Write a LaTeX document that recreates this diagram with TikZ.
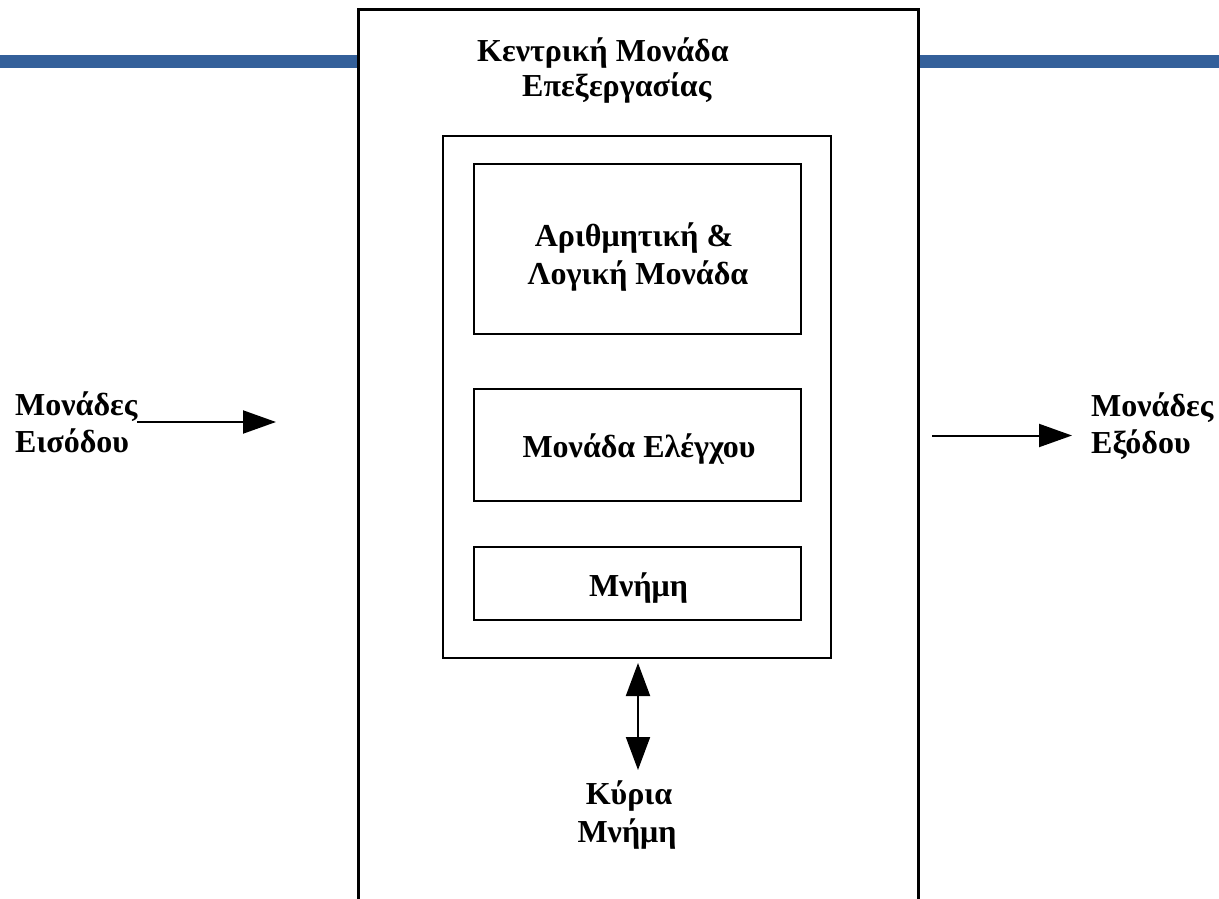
\documentclass[tikz,border=0pt]{standalone}
\usepackage{fontspec}
\setmainfont{Liberation Serif}
\usetikzlibrary{arrows.meta}
\definecolor{bandblue}{HTML}{34609A}
\begin{document}
\begin{tikzpicture}[x=1pt,y=-1pt,
  frame/.style={draw=black,line width=2.4pt},
  unitbox/.style={frame,line width=2.2pt,minimum width=327pt,anchor=north west,inner sep=0pt},
  lbl/.style={font=\bfseries\fontsize{32}{38}\selectfont,inner sep=0pt,anchor=base},
  lbll/.style={lbl,anchor=base west},
  bigarrow/.style={line width=2pt,-{Triangle[length=33pt,width=23pt]}},
  dblarrow/.style={line width=2pt,{Triangle[length=33pt,width=24pt]}-{Triangle[length=33pt,width=24pt]}}]
\useasboundingbox (0,0) rectangle (1219,899);
\fill[white] (0,0) rectangle (1219,899);
% blue band behind the processor frame
\fill[bandblue] (0,55) rectangle (1219,68);
% processor frame (runs past the lower edge)
\node[draw=black,line width=2.6pt,fill=white,anchor=north west,inner sep=0pt,
      minimum width=560pt,minimum height=950pt] (cpu) at (357,8) {};
\node[lbll] (cputitleA) at (477,62) {Κεντρική Μονάδα};
\node[lbll] (cputitleB) at (522,96) {Επεξεργασίας};
% inner frame with the three units
\node[frame,anchor=north west,inner sep=0pt,minimum width=388pt,minimum height=522pt] (core) at (442,135) {};
\node[unitbox,minimum height=170pt] (alu) at (473,163) {};
\node[lbl] (aluA) at (634,246) {Αριθμητική \&};
\node[lbl] (aluB) at (638,284) {Λογική Μονάδα};
\node[unitbox,minimum height=112pt] (cu) at (473,388) {};
\node[lbl] (cuA) at (639,457) {Μονάδα Ελέγχου};
\node[unitbox,minimum height=73pt] (mem) at (473,546) {};
\node[lbl] (memA) at (638.5,596) {Μνήμη};
% main memory below
\node[lbl] (mainmemA) at (629,804) {Κύρια};
\node[lbl] (mainmemB) at (627,842) {Μνήμη};
\coordinate (busTop) at (638,663);
\coordinate (busBot) at (638,770);
\draw[dblarrow] (busTop) -- (busBot);
% input units
\node[lbll] (inpA) at (15,415) {Μονάδες};
\node[lbll] (inpB) at (15,452) {Εισόδου};
\coordinate (inStart) at (137,422);
\coordinate (inEnd) at (276,422);
\draw[bigarrow] (inStart) -- (inEnd);
% output units
\node[lbll] (outpA) at (1091,416) {Μονάδες};
\node[lbll] (outpB) at (1091,453) {Εξόδου};
\coordinate (outStart) at (932,435.5);
\coordinate (outEnd) at (1072,435.5);
\draw[bigarrow] (outStart) -- (outEnd);
\end{tikzpicture}
\end{document}
